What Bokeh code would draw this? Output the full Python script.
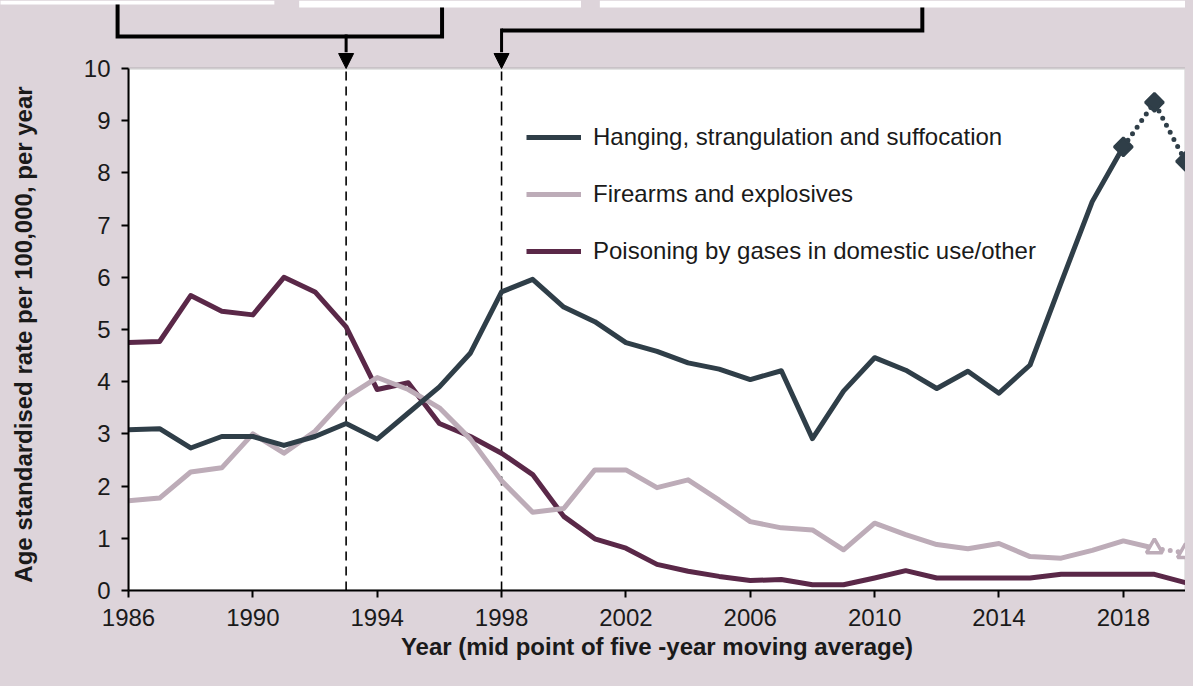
import math
from bokeh.plotting import figure
from bokeh.layouts import row
from bokeh.core.properties import value
from bokeh.models import (Range1d, Legend, LegendItem, FixedTicker, Arrow, NormalHead,
                          BoxAnnotation)
from bokeh.embed import file_html
from bokeh.resources import INLINE

# ---------------- data ----------------
years = list(range(1986, 2021))
hanging = [3.08, 3.10, 2.73, 2.95, 2.95, 2.78, 2.95, 3.20, 2.90, 3.40,
           3.90, 4.55, 5.72, 5.96, 5.43, 5.15, 4.75, 4.58, 4.36, 4.24,
           4.04, 4.21, 2.91, 3.82, 4.46, 4.22, 3.87, 4.20, 3.78, 4.32,
           5.90, 7.45, 8.50, 9.35, 8.22]
firearms = [1.72, 1.77, 2.27, 2.35, 3.00, 2.63, 3.05, 3.70, 4.08, 3.85,
            3.50, 2.90, 2.10, 1.50, 1.57, 2.31, 2.31, 1.97, 2.12, 1.73,
            1.32, 1.20, 1.16, 0.78, 1.29, 1.07, 0.88, 0.80, 0.90, 0.65,
            0.62, 0.77, 0.95, 0.81, 0.72]
poisoning = [4.75, 4.77, 5.65, 5.35, 5.28, 6.00, 5.72, 5.05, 3.85, 3.98,
             3.20, 2.95, 2.63, 2.22, 1.42, 0.99, 0.81, 0.50, 0.37, 0.27,
             0.19, 0.21, 0.11, 0.11, 0.24, 0.38, 0.24, 0.24, 0.24, 0.24,
             0.31, 0.31, 0.31, 0.31, 0.15]
hanging_proj_from = 2018     # dotted (projected) part starts here
firearms_proj_from = 2019
series_names = ["Hanging, strangulation and suffocation",
                "Firearms and explosives",
                "Poisoning by gases in domestic use/other"]
event_years = [1993, 1998]
x_ticks = [1986, 1990, 1994, 1998, 2002, 2006, 2010, 2014, 2018]
y_ticks = list(range(0, 11))
x_label = "Year (mid point of five -year moving average)"
y_label = "Age standardised rate per 100,000, per year"

# ---------------- style ----------------
BG = "#DDD4DA"
C_HANG = "#2F3E48"
C_FIRE = "#BDACB8"
C_POIS = "#5A2848"
FONT = "Liberation Sans"

W = 1185
TOP_H = 52            # annotation strip above the plot
BAND = 16             # mauve band inside the main frame, above y = 10
PLOT_H = 522          # height of the 0..10 plotting area
LEFT, BOTTOM = 128, 80
LAB_W = 46            # strip holding the y-axis title
MAIN_H = BAND + PLOT_H + BOTTOM
FRAME_W = W - LEFT
X0, X1, Y0, Y1 = 1986, 2020, 0, 10
ppy = FRAME_W / (X1 - X0)
ppu = PLOT_H / (Y1 - Y0)
Y_TOP = Y1 + BAND / ppu


def yr(px):      # horizontal reference-pixel -> year units
    return X0 + (px - 128) / 31.33


# ---------------- main chart ----------------
p = figure(width=W - LAB_W, height=MAIN_H, output_backend="svg", toolbar_location=None,
           x_range=Range1d(X0, X1), y_range=Range1d(Y0, Y_TOP),
           min_border_left=LEFT - LAB_W, min_border_right=0, min_border_top=0,
           min_border_bottom=BOTTOM)
p.background_fill_color = BG
p.border_fill_color = BG
p.outline_line_color = None
p.grid.visible = False

# white plotting area with grey frame
p.add_layout(BoxAnnotation(left=X0, right=X1, bottom=Y0, top=Y1, fill_color="white",
                           fill_alpha=1, line_color="#8A8A8A", line_width=2.5,
                           level="underlay"))


def split(xs, ys, start):
    i = xs.index(start)
    return xs[:i + 1], ys[:i + 1], xs[i:], ys[i:]


hx, hy, hpx, hpy = split(years, hanging, hanging_proj_from)
fx, fy, fpx, fpy = split(years, firearms, firearms_proj_from)

# dashed event lines
p.segment(x0=event_years, y0=[Y0] * len(event_years), x1=event_years,
          y1=[Y1] * len(event_years), line_color="black", line_width=1.6, line_dash="9 6")

LW = 5
r_pois = p.line(years, poisoning, line_color=C_POIS, line_width=LW, line_join="round")
r_fire = p.line(fx, fy, line_color=C_FIRE, line_width=LW, line_join="round")
p.line(fpx, fpy, line_color=C_FIRE, line_width=LW, line_dash="0 8", line_cap="round")
p.scatter(fpx, fpy, marker="triangle", size=16, fill_color="white",
          line_color=C_FIRE, line_width=3.5)
r_hang = p.line(hx, hy, line_color=C_HANG, line_width=LW, line_join="round")
p.line(hpx, hpy, line_color=C_HANG, line_width=LW, line_dash="0 8", line_cap="round")
p.scatter(hpx, hpy, marker="square", angle=0.785398, size=13, fill_color=C_HANG,
          line_color=C_HANG, line_width=2.5)

# arrow heads pointing at the event lines
for ey in event_years:
    p.add_layout(Arrow(end=NormalHead(size=15, fill_color="black", line_color="black"),
                       x_start=ey, y_start=Y_TOP, x_end=ey, y_end=Y1,
                       line_color="black", line_width=3))

legend = Legend(items=[LegendItem(label=series_names[0], renderers=[r_hang]),
                       LegendItem(label=series_names[1], renderers=[r_fire]),
                       LegendItem(label=series_names[2], renderers=[r_pois])],
                location=(398, 325), padding=0, margin=0, spacing=29,
                glyph_width=55, glyph_height=22, label_height=22,
                label_standoff=12, background_fill_alpha=0, border_line_alpha=0,
                label_text_font=FONT, label_text_font_size="24px",
                label_text_color="#1A1A1A")
p.add_layout(legend)

for ax in (p.xaxis[0], p.yaxis[0]):
    ax.axis_line_color = "black"
    ax.axis_line_width = 2
    ax.major_tick_line_color = "black"
    ax.major_tick_line_width = 2
    ax.major_tick_in = 0
    ax.major_tick_out = 7
    ax.minor_tick_line_color = None
    ax.major_label_text_font = FONT
    ax.major_label_text_font_size = "24px"
    ax.major_label_text_color = "#1A1A1A"
    ax.axis_label_text_font = FONT
    ax.axis_label_text_font_size = "24px"
    ax.axis_label_text_font_style = "bold"
    ax.axis_label_text_color = "#1A1A1A"

p.xaxis[0].ticker = FixedTicker(ticks=x_ticks)
p.yaxis[0].ticker = FixedTicker(ticks=y_ticks)
p.yaxis[0].bounds = (Y0, Y1)
p.xaxis[0].axis_label = x_label
p.xaxis[0].major_label_standoff = 11
p.xaxis[0].axis_label_standoff = 4
p.yaxis[0].major_label_standoff = 11

# ---------------- y-axis title strip (left) ----------------
lab = figure(width=LAB_W, height=MAIN_H, output_backend="svg", toolbar_location=None,
             x_range=Range1d(0, LAB_W), y_range=Range1d(Y0, Y_TOP),
             min_border_left=0, min_border_right=0, min_border_top=0,
             min_border_bottom=BOTTOM, x_axis_location=None, y_axis_location=None)
lab.background_fill_color = BG
lab.border_fill_color = BG
lab.outline_line_color = None
lab.grid.visible = False
lab.text(x=[LAB_W / 2], y=[(Y0 + Y1) / 2 - 5 / ppu], text=[y_label], angle=math.pi / 2,
         text_align="center", text_baseline="middle", text_font=value(FONT),
         text_font_size="24px", text_font_style="bold", text_color="#1A1A1A")

# ---------------- annotation strip above the plot ----------------
t = figure(width=W, height=TOP_H, output_backend="svg", toolbar_location=None,
           x_range=Range1d(X0 - LEFT / ppy, X1), y_range=Range1d(0, TOP_H),
           min_border=0, min_border_left=0, min_border_right=0,
           min_border_top=0, min_border_bottom=0,
           x_axis_location=None, y_axis_location=None)
t.background_fill_color = BG
t.border_fill_color = BG
t.outline_line_color = None
t.grid.visible = False

# cut-off white text boxes at the very top
t.quad(left=[X0 - LEFT / ppy - 1, yr(300), yr(603)], right=[yr(275), yr(584), X1 + 1],
       bottom=[TOP_H - 4, TOP_H - 7, TOP_H - 7], top=[TOP_H, TOP_H, TOP_H],
       fill_color="white", line_color=None)

b1, b2 = 16, 22
t.line([yr(117), yr(117), yr(444), yr(444)], [TOP_H - 4, b1, b1, TOP_H - 7],
       line_color="black", line_width=4, line_join="miter")
t.line([event_years[1], yr(928), yr(928)], [b2, b2, TOP_H - 7],
       line_color="black", line_width=4, line_join="miter")
t.segment(x0=event_years, y0=[b1 + 2, b2 + 2], x1=event_years, y1=[0, 0],
          line_color="black", line_width=3)

TEMPLATE = ("{% block preamble %}<style>html, body { background: " + BG +
            "; }</style>{% endblock %}")
open("out.html", "w").write(file_html([t, row(lab, p, spacing=0)], INLINE, template=TEMPLATE))
